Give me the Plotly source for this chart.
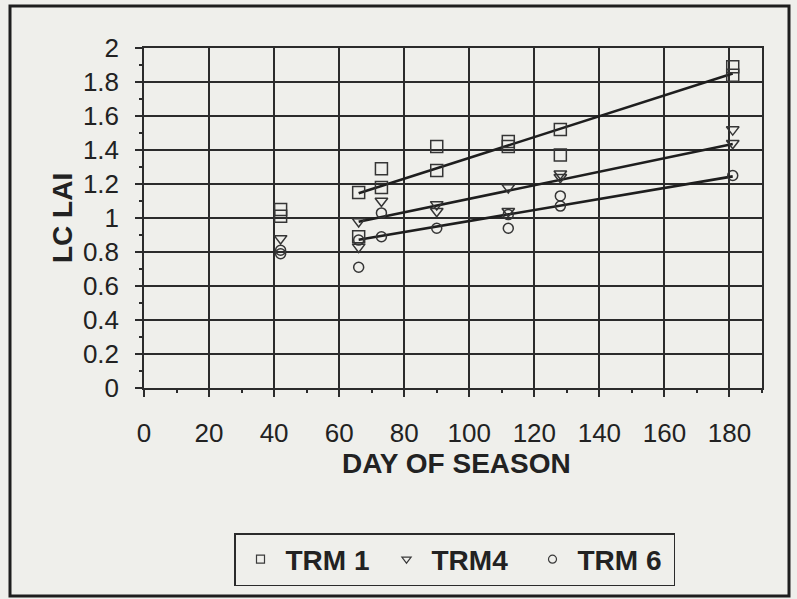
import plotly.graph_objects as go

# ---- data ----
trm1_day = [42, 42, 66, 66, 73, 73, 90, 90, 112, 112, 128, 128, 181, 181]
trm1_lai = [1.05, 1.01, 1.15, 0.89, 1.29, 1.18, 1.42, 1.28, 1.45, 1.42, 1.52, 1.37, 1.89, 1.84]

trm4_day = [42, 66, 66, 73, 90, 90, 112, 112, 128, 128, 181, 181]
trm4_lai = [0.88, 0.98, 0.83, 1.10, 1.08, 1.04, 1.18, 1.04, 1.26, 1.24, 1.52, 1.44]

trm6_day = [42, 42, 66, 66, 73, 73, 90, 112, 112, 128, 128, 181]
trm6_lai = [0.81, 0.79, 0.87, 0.71, 1.03, 0.89, 0.94, 1.02, 0.94, 1.13, 1.07, 1.25]

trend_day = [66, 181]
trend_trm1 = [1.145, 1.85]
trend_trm4 = [0.978, 1.435]
trend_trm6 = [0.872, 1.245]

x_ticks = [0, 20, 40, 60, 80, 100, 120, 140, 160, 180]
y_ticks = [0, 0.2, 0.4, 0.6, 0.8, 1, 1.2, 1.4, 1.6, 1.8, 2]
y_tick_text = ["0", "0.2", "0.4", "0.6", "0.8", "1", "1.2", "1.4", "1.6", "1.8", "2"]

series_names = ["TRM 1", "TRM4", "TRM 6"]
symbols = ["square-open", "triangle-down-open", "circle-open"]

BG = "#efefeb"
INK = "#2b2b2b"
FONT = "Liberation Sans, Arial, sans-serif"

fig = go.Figure()

# trend lines
for ty in (trend_trm1, trend_trm4, trend_trm6):
    fig.add_trace(go.Scatter(x=trend_day, y=ty, mode="lines",
                             line=dict(color="#1e1e1e", width=2.6),
                             showlegend=False, hoverinfo="skip"))

# data points
sizes = [12, 11, 10]
for d, v, s, sz in zip((trm1_day, trm4_day, trm6_day), (trm1_lai, trm4_lai, trm6_lai), symbols, sizes):
    fig.add_trace(go.Scatter(x=d, y=v, mode="markers",
                             marker=dict(symbol=s, size=sz, color="#353535",
                                         line=dict(color="#353535", width=1.5)),
                             showlegend=False))

# legend entries (small markers as in reference)
for name, s in zip(series_names, symbols):
    fig.add_trace(go.Scatter(x=[None], y=[None], mode="markers", name=name,
                             marker=dict(symbol=s, size=8, color="#3a3a3a",
                                         line=dict(color="#3a3a3a", width=1.2))))

# geometry (pixels) of plot area
L, R, T, B = 144, 762, 48, 388
W, H = 797, 599
pw, ph = R - L, B - T

def px(xp):
    return (xp - L) / pw

def py(yp):
    return (B - yp) / ph

fig.update_layout(
    width=W, height=H,
    margin=dict(l=L, r=W - R, t=T, b=H - B, pad=0, autoexpand=False),
    paper_bgcolor=BG, plot_bgcolor=BG,
    font=dict(family=FONT, color="#222222"),
    showlegend=True,
    legend=dict(orientation="h", x=px(234), y=py(533), xanchor="left", yanchor="top",
                bgcolor="rgba(0,0,0,0)", bordercolor=INK, borderwidth=1.5,
                font=dict(size=28, family=FONT, weight="bold", color="#222222"),
                entrywidth=91, itemwidth=40, tracegroupgap=0),
    xaxis=dict(range=[0, 190], tickvals=x_ticks, ticktext=[str(t) for t in x_ticks],
               showgrid=True, gridcolor=INK, gridwidth=1.5,
               showline=True, linecolor=INK, linewidth=1.5, mirror=True,
               ticks="outside", ticklen=7, tickcolor=INK, tickwidth=1.5,
               ticklabelstandoff=14, automargin=False,
               minor=dict(dtick=10, tick0=0, ticks="outside", ticklen=3, tickcolor=INK, showgrid=False),
               tickfont=dict(size=26, family=FONT, color="#222222"),
               zeroline=False, fixedrange=True),
    yaxis=dict(range=[0, 2], tickvals=y_ticks, ticktext=y_tick_text,
               showgrid=True, gridcolor=INK, gridwidth=1.5,
               showline=True, linecolor=INK, linewidth=1.5, mirror=True,
               ticks="outside", ticklen=7, tickcolor=INK, tickwidth=1.5,
               ticklabelstandoff=11, automargin=False,
               minor=dict(dtick=0.1, tick0=0, ticks="outside", ticklen=3, tickcolor=INK, showgrid=False),
               tickfont=dict(size=26, family=FONT, color="#222222"),
               zeroline=False, fixedrange=True),
)

# axis titles
fig.add_annotation(text="<b>DAY OF SEASON</b>", x=px(456), y=py(463), xref="paper", yref="paper",
                   showarrow=False, xanchor="center", yanchor="middle",
                   font=dict(size=28, family=FONT, color="#222222"))
fig.add_annotation(text="<b>LC LAI</b>", x=px(62), y=py(218), xref="paper", yref="paper",
                   showarrow=False, xanchor="center", yanchor="middle", textangle=-90,
                   font=dict(size=28, family=FONT, color="#222222"))

# outer frame
fig.add_shape(type="rect", xref="paper", yref="paper",
              x0=px(10), x1=px(789), y0=py(596), y1=py(6),
              line=dict(color="#1e1e1e", width=3), layer="below")

fig.write_html("out.html", config={"displayModeBar": False},
               post_script="document.body.style.margin='0';document.body.style.background='%s';" % BG)
